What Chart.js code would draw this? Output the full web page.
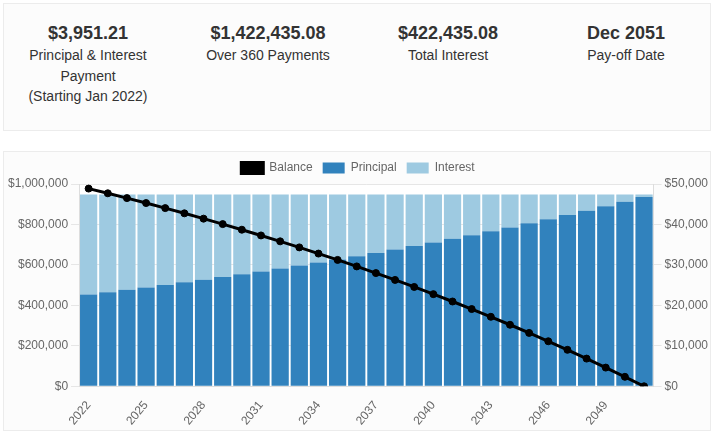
<!DOCTYPE html>
<html>
<head>
<meta charset="utf-8">
<script src="https://cdn.jsdelivr.net/npm/chart.js@4"></script>
<style>
    body { margin: 0; background: #fff; font-family: Arial, "Liberation Sans", sans-serif; color: #333; }
    .card { position: absolute; left: 3px; width: 706px; border: 1px solid #ececec; background: #fcfcfc; }
    .summary { top: 3px; height: 126px; }
    .chartbox { top: 151px; height: 278px; }
    .stat { position: absolute; top: 18px; width: 180px; text-align: center; }
    .stat .val { font-weight: bold; font-size: 18px; line-height: 22px; }
    .stat .lbl { font-size: 14px; line-height: 20.5px; margin-top: 1px; }
    #wrap { position: absolute; left: 5px; top: 152px; width: 706px; height: 280px; }
</style>
</head>
<body>
<div class="card summary">
    <div class="stat" style="left: -6px;"><div class="val">$3,951.21</div><div class="lbl">Principal &amp; Interest<br>Payment<br>(Starting Jan 2022)</div></div>
    <div class="stat" style="left: 174px;"><div class="val">$1,422,435.08</div><div class="lbl">Over 360 Payments</div></div>
    <div class="stat" style="left: 354px;"><div class="val">$422,435.08</div><div class="lbl">Total Interest</div></div>
    <div class="stat" style="left: 532px;"><div class="val">Dec 2051</div><div class="lbl">Pay-off Date</div></div>
</div>
<div class="card chartbox"></div>
<div id="wrap"><canvas id="chart"></canvas></div>

<script>
// yearly amortization
const years = ['2022', '2023', '2024', '2025', '2026', '2027', '2028', '2029', '2030', '2031',
    '2032', '2033', '2034', '2035', '2036', '2037', '2038', '2039', '2040', '2041',
    '2042', '2043', '2044', '2045', '2046', '2047', '2048', '2049', '2050', '2051'];

const balance = [977327, 954082, 930248, 905811, 880757, 855069, 828731, 801727, 774041, 745654,
    716549, 686708, 656113, 624744, 592581, 559605, 525796, 491131, 455589, 419149,
    381788, 343481, 304206, 263937, 222650, 180319, 136918, 92419, 46795, 0];

const principal = [22673, 23246, 23834, 24437, 25055, 25688, 26338, 27004, 27687, 28387,
    29105, 29841, 30595, 31369, 32163, 32976, 33810, 34665, 35541, 36440,
    37362, 38307, 39275, 40269, 41287, 42331, 43401, 44499, 45624, 46778];

const interest = [24742, 24169, 23581, 22978, 22360, 21726, 21077, 20411, 19728, 19028,
    18310, 17574, 16819, 16045, 15252, 14439, 13605, 12750, 11873, 10974,
    10053, 9108, 8139, 7146, 6128, 5084, 4013, 2916, 1790, 636];

const money = v => '$' + Number(v).toLocaleString('en-US');

// white plot area
const plotBg = {
    id: 'plotBg',
    beforeDraw(chart) {
        const { ctx, chartArea: a } = chart;
        ctx.save();
        ctx.fillStyle = '#ffffff';
        ctx.fillRect(a.left, a.top, a.right - a.left, a.bottom - a.top);
        ctx.restore();
    }
};

Chart.defaults.font.family = 'Arial, "Liberation Sans", sans-serif';
Chart.defaults.font.size = 12;
Chart.defaults.color = '#666';

new Chart(document.getElementById('chart'), {
    type: 'bar',
    data: {
        labels: years,
        datasets: [
            {
                type: 'line',
                label: 'Balance',
                data: balance,
                yAxisID: 'y',
                borderColor: '#000',
                backgroundColor: '#000',
                borderWidth: 3,
                pointRadius: 3.5,
                pointBorderWidth: 1,
                pointBackgroundColor: '#000',
                tension: 0,
                order: 0,
            },
            {
                label: 'Principal',
                data: principal,
                yAxisID: 'y1',
                backgroundColor: '#3182bd',
                stack: 'pay',
                order: 1,
            },
            {
                label: 'Interest',
                data: interest,
                yAxisID: 'y1',
                backgroundColor: '#9ecae1',
                stack: 'pay',
                order: 1,
            },
        ],
    },
    options: {
        responsive: true,
        maintainAspectRatio: false,
        animation: false,
        categoryPercentage: 0.9,
        barPercentage: 1,
        layout: { padding: { left: 0, right: 0, top: 0, bottom: 0 } },
        plugins: {
            legend: {
                labels: { boxWidth: 22, boxHeight: 11, padding: 10, color: '#666' },
            },
            tooltip: { enabled: false },
        },
        scales: {
            x: {
                stacked: true,
                grid: { display: false },
                border: { display: true, color: '#ddd' },
                ticks: {
                    autoSkip: false,
                    minRotation: 50,
                    maxRotation: 50,
                    padding: 4,
                    callback: function (v, i) { return i % 3 === 0 ? this.getLabelForValue(v) : ''; },
                },
            },
            y: {
                position: 'left',
                min: 0,
                max: 1000000,
                ticks: { stepSize: 200000, callback: money },
                grid: { color: '#e6e6e6' },
                border: { color: '#ddd' },
            },
            y1: {
                position: 'right',
                stacked: true,
                min: 0,
                max: 50000,
                ticks: { stepSize: 10000, callback: money },
                grid: { drawOnChartArea: false, color: '#e6e6e6' },
                border: { color: '#ddd' },
            },
        },
    },
    plugins: [plotBg],
});
</script>
</body>
</html>
